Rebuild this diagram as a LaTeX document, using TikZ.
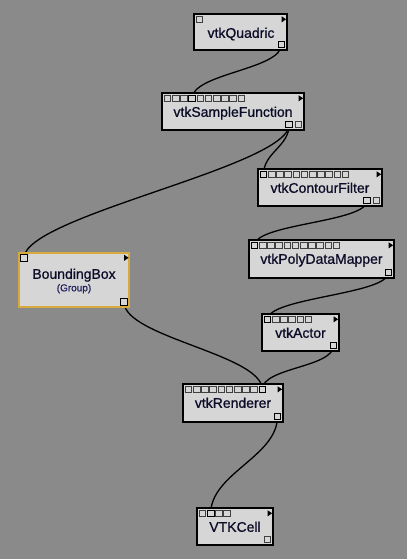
\documentclass[tikz,border=0pt]{standalone}
\usepackage{fontspec}
\setmainfont{Liberation Sans}[FakeBold=1.6]
\newfontfamily\boxfont{Liberation Sans}[FakeBold=0.9]
\usetikzlibrary{calc,fit}
\definecolor{bgc}{RGB}{138,138,138}
\definecolor{boxc}{RGB}{214,214,214}
\definecolor{txtc}{RGB}{12,12,40}
\definecolor{grptxt}{RGB}{30,30,90}
\definecolor{goldc}{RGB}{216,170,62}
\definecolor{portc}{RGB}{64,64,64}
\pgfdeclarelayer{bglayer}
\pgfdeclarelayer{wirelayer}
\pgfsetlayers{bglayer,wirelayer,main}
\tikzset{
  modbox/.style={draw=black, line width=1.4pt, fill=boxc, rectangle, inner sep=0pt},
  grpbox/.style={draw=goldc, line width=2.4pt, fill=boxc, rectangle, inner sep=0pt},
  title/.style={font=\boxfont\fontsize{14}{16}\selectfont, text=txtc, anchor=base, inner sep=0pt},
  subtitle/.style={font=\boxfont\fontsize{10}{12}\selectfont, text=grptxt, anchor=base, inner sep=0pt},
  port/.style={draw=portc, line width=0.75pt, fill=boxc, minimum size=6.6pt, inner sep=0pt, rectangle},
  cport/.style={port, draw=black, line width=1pt},
  wire/.style={draw=black, line width=1.3pt},
}
% input ports: name, count, connected index
\newcommand\inports[3]{%
  \foreach \i in {1,...,#2}{%
    \pgfmathsetmacro\px{6.2+8.2*(\i-1)}%
    \ifnum\i=#3\relax
      \node[cport] (#1-i\i) at ($(#1.north west)+(\px,6.2)$) {};
    \else
      \node[port] (#1-i\i) at ($(#1.north west)+(\px,6.2)$) {};
    \fi
  }}
% output ports: name, count, connected index (0 = none)
\newcommand\outports[3]{%
  \foreach \i in {1,...,#2}{%
    \pgfmathsetmacro\px{-6.2-9.3*(#2-\i)}%
    \ifnum\i=#3\relax
      \node[cport] (#1-o\i) at ($(#1.south east)+(\px,-6.2)$) {};
    \else
      \node[port] (#1-o\i) at ($(#1.south east)+(\px,-6.2)$) {};
    \fi
  }}
\newcommand\playtri[1]{%
  \fill[black] ($(#1.north east)+(-6,3)$) -- ++(4.4,3) -- ++(-4.4,3) -- cycle;}
\begin{document}
\begin{tikzpicture}[x=1pt,y=-1pt]
\begin{pgfonlayer}{bglayer}
  \fill[bgc] (0,0) rectangle (407,559);
\end{pgfonlayer}
\useasboundingbox (0,0) rectangle (407,559);

% modules
\node[modbox, fit={(194,14) (287,50)}] (Q) {};
\node[modbox, fit={(162,93) (304,130)}] (S) {};
\node[modbox, fit={(258,169) (382,206)}] (C) {};
\node[modbox, fit={(249,240) (394,278)}] (M) {};
\node[grpbox, fit={(19,253) (129,307)}] (B) {};
\node[modbox, fit={(262,314) (339,351)}] (A) {};
\node[modbox, fit={(183,384) (283,422)}] (R) {};
\node[modbox, fit={(197,508) (273,545)}] (V) {};

% titles
\node[title] (Qt) at ($(Q.north)+(0.5,24.5)$) {vtkQuadric};
\node[title] (St) at ($(S.north)+(0,24.5)$) {vtkSampleFunction};
\node[title] (Ct) at ($(C.north)+(0,24.5)$) {vtkContourFilter};
\node[title] (Mt) at ($(M.north)+(0,24.5)$) {vtkPolyDataMapper};
\node[title] (Bt) at ($(B.north)+(0,27)$) {BoundingBox};
\node[subtitle] (Bg) at ($(B.north)+(0,39.5)$) {(Group)};
\node[title] (At) at ($(A.north)+(0,24.5)$) {vtkActor};
\node[title] (Rt) at ($(R.north)+(0,24.5)$) {vtkRenderer};
\node[title] (Vt) at ($(V.north)+(0,24.5)$) {VTKCell};

% ports
\inports{Q}{1}{0}   \outports{Q}{1}{1}
\inports{S}{10}{4}  \outports{S}{2}{1}
\inports{C}{11}{1}  \outports{C}{2}{1}
\inports{M}{11}{1}  \outports{M}{1}{1}
\inports{B}{1}{1}   \outports{B}{1}{1}
\inports{A}{6}{1}   \outports{A}{1}{1}
\inports{R}{10}{10} \outports{R}{1}{1}
\inports{V}{4}{2}   \outports{V}{1}{0}

% play triangles
\playtri{Q}\playtri{S}\playtri{C}\playtri{M}
\playtri{B}\playtri{A}\playtri{R}\playtri{V}

% wires
\begin{pgfonlayer}{wirelayer}
  \draw[wire] (Q-o1.center) .. controls +(0,25) and +(0,-25) .. (S-i4.center);
  \draw[wire] (S-o1.center) .. controls +(0,22) and +(0,-22) .. (C-i1.center);
  \draw[wire] (S-o1.center) .. controls +(0,42) and +(0,-42) .. (B-i1.center);
  \draw[wire] (C-o1.center) .. controls +(0,22) and +(0,-22) .. (M-i1.center);
  \draw[wire] (M-o1.center) .. controls +(0,22) and +(0,-22) .. (A-i1.center);
  \draw[wire] (A-o1.center) .. controls +(0,22) and +(0,-22) .. (R-i10.center);
  \draw[wire] (B-o1.center) .. controls +(0,35) and +(0,-35) .. (R-i10.center);
  \draw[wire] (R-o1.center) .. controls +(0,40) and +(0,-40) .. (V-i2.center);
\end{pgfonlayer}
\end{tikzpicture}
\end{document}
